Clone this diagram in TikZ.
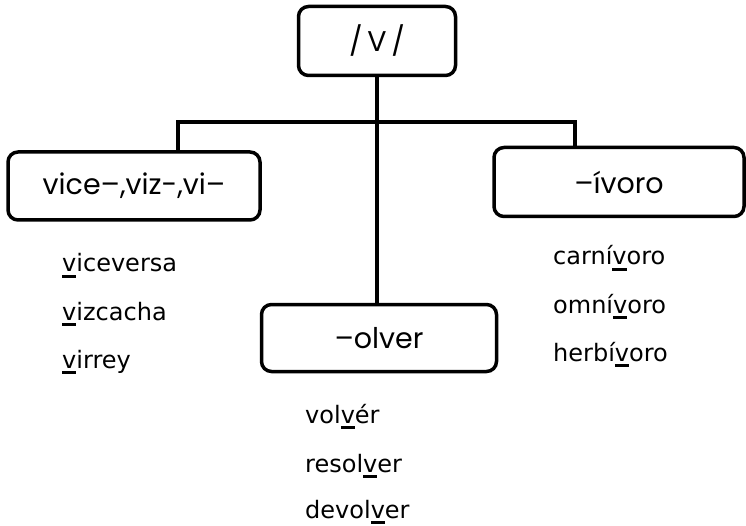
\documentclass[tikz,border=0pt]{standalone}
\usepackage{fontspec}
\setmainfont{Poppins}
\newfontfamily\listfont{DejaVu Sans}
\usetikzlibrary{positioning}
\tikzset{
  wordbox/.style = {draw, line width = 3.5pt, rounded corners = 10pt, inner sep = 0pt,
    font = \fontsize{28.5}{33}\selectfont},
  wordlist/.style = {anchor = base west, inner sep = 0pt,
    font = \listfont\fontsize{24}{28}\selectfont},
  branch/.style = {line width = 3.5pt}
}
\newcommand{\uv}{\setbox0\hbox{v}\rlap{\rule[-6pt]{\wd0}{3pt}}v}

\begin{document}
\begin{tikzpicture}[x = 1pt, y = -1pt]
\useasboundingbox (0,0) rectangle (746,526);

\node[wordbox, minimum width = 157pt, minimum height = 69pt] (v) at (377,41) {/\,V\,/};
\node[wordbox, minimum width = 252pt, minimum height = 68pt] (vice) at (134,186) {vice–,viz-,vi–};
\node[wordbox, minimum width = 235pt, minimum height = 67pt] (olver) at (379,338) {–olver};
\node[wordbox, minimum width = 250pt, minimum height = 69pt] (ivoro) at (619,182) {–ívoro};

\coordinate (jl) at (178,122);
\coordinate (jr) at (575,122);
\draw[branch] (v.south) -- (olver.north -| v.south);
\draw[branch] (vice.north -| jl) -- (jl) -- (jr) -- (ivoro.north -| jr);

\node[wordlist] (l1) at (62,272) {\uv iceversa};
\node[wordlist] (l2) at (62,320) {\uv izcacha};
\node[wordlist] (l3) at (62,368) {\uv irrey};

\node[wordlist] (m1) at (305,423) {vol\uv ér};
\node[wordlist] (m2) at (305,472) {resol\uv er};
\node[wordlist] (m3) at (305,518) {devol\uv er};

\node[wordlist] (r1) at (553,265) {carní\uv oro};
\node[wordlist] (r2) at (553,313) {omní\uv oro};
\node[wordlist] (r3) at (553,361) {herbí\uv oro};
\end{tikzpicture}
\end{document}
